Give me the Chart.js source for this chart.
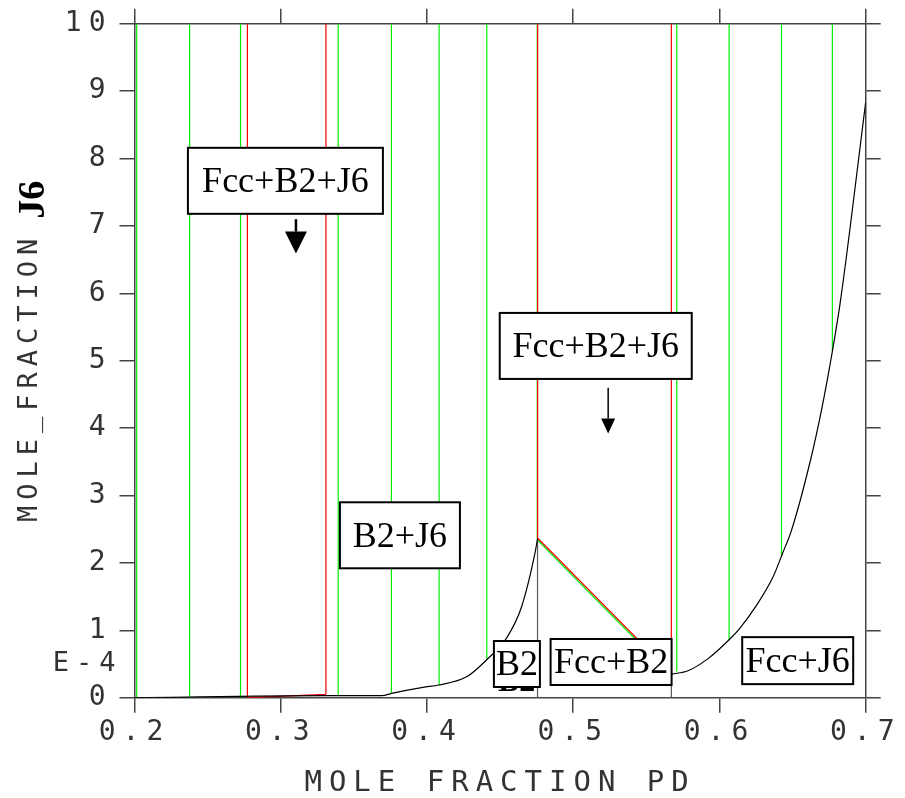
<!DOCTYPE html>
<html>
<head>
<meta charset="utf-8">
<title>Mole fraction J6 vs mole fraction Pd</title>
<script src="https://cdn.jsdelivr.net/npm/chart.js@4.4.0/dist/chart.umd.min.js"></script>
<style>
  html, body { margin: 0; padding: 0; background: #fff; }
  #wrap { width: 905px; height: 798px; }
</style>
</head>
<body>
<div id="wrap"><canvas id="phaseChart" width="905" height="798"></canvas></div>
<script>
// upper end of every tie-line (top of the section, in units of 1E-4)
const yTop = 10;

// green tie-lines: x position and lower end on the phase boundary
const greenTieX    = [0.2015, 0.2377, 0.2725, 0.3393, 0.3757, 0.4083, 0.4409, 0.4754, 0.5708, 0.6066, 0.6424, 0.6772];
const greenTieBase = [0,      0,      0,      0.03,   0.07,   0.19,   0.56,   2.36,   0.39,   0.86,   2.11,   5.14];

// red tie-lines
const redTieX    = [0.2772, 0.3309, 0.4757, 0.5671];
const redTieBase = [0,      0.05,   2.36,   0.35];

// black boundary curve, left branch (B2 side) and right branch (Fcc side)
const leftCurveX  = [0.2, 0.3316, 0.3692, 0.3758, 0.3972, 0.4081, 0.4271, 0.4407, 0.4544, 0.4647, 0.4738, 0.4756];
const leftCurveY  = [0,   0.03,   0.03,   0.065,  0.154,  0.188,  0.31,   0.56,   0.885,  1.35,   2.14,   2.36];
const rightCurveX = [0.5671, 0.5785, 0.5922, 0.6066, 0.6139, 0.6253, 0.6366, 0.6431, 0.6492, 0.6622, 0.6697, 0.6772, 0.6827, 0.7];
const rightCurveY = [0.35,   0.40,   0.58,   0.86,   1.03,   1.37,   1.79,   2.14,   2.48,   3.52,   4.26,   5.14,   5.88,   8.84];

// three-phase triangle edge (Fcc+B2 boundary) and short red segment near the axis
const edgeX = [0.4756, 0.5671];
const edgeY = [2.36, 0.35];
const lowRedX = [0.2772, 0.3309];
const lowRedY = [0, 0.05];

// vertical boundaries under the curve: x and the curve value where they stop
const dropX = [0.4756, 0.5671];
const dropTop = [2.36, 0.35];

// phase region labels
const labelText = ['Fcc+B2+J6', 'Fcc+B2+J6', 'B2+J6', 'B2', 'Fcc+B2', 'Fcc+J6'];
const labelX = [0.3032, 0.5154, 0.3815, 0.4615, 0.5259, 0.6535];
const labelY = [7.67, 5.22, 2.41, 0.50, 0.53, 0.55];

// arrows under the three-phase labels
const arrowX = [0.3104, 0.5239];
const arrowFrom = [7.10, 4.60];
const arrowTo = [6.59, 3.92];

const xTicks = [0.2, 0.3, 0.4, 0.5, 0.6, 0.7];

function toPoints(xs, ys) {
    return xs.map((x, i) => ({ x: x, y: ys[i] }));
}

function verticals(xs, lows, highs) {
    const pts = [];
    xs.forEach((x, i) => {
        const hi = Array.isArray(highs) ? highs[i] : highs;
        pts.push({ x: x, y: lows[i] }, { x: x, y: hi }, { x: x, y: null });
    });
    return pts;
}

function lineSet(data, color, width) {
    return {
        data: data,
        showLine: true,
        borderColor: color,
        backgroundColor: color,
        borderWidth: width,
        pointRadius: 0,
        spanGaps: false,
        tension: 0
    };
}

const monoFont = '"DejaVu Sans Mono", "Liberation Mono", monospace';
const serifFont = '"Liberation Serif", "Times New Roman", serif';
const axisColor = '#444';
const textColor = '#333';

const boxW = [195, 192, 120, 46, 121, 111];
const boxH = [66, 66, 66, 46, 46, 47];

function drawArrow(ctx, px, y0, y1, head, headW, shaftW) {
    ctx.beginPath();
    ctx.lineWidth = shaftW;
    ctx.moveTo(px, y0);
    ctx.lineTo(px, y1 - head);
    ctx.stroke();
    ctx.beginPath();
    ctx.moveTo(px - headW / 2, y1 - head);
    ctx.lineTo(px + headW / 2, y1 - head);
    ctx.lineTo(px, y1);
    ctx.closePath();
    ctx.fill();
}

const annotations = {
    id: 'annotations',
    beforeDraw(chart) {
        chart.ctx.letterSpacing = '7px';
    },
    afterDraw(chart) {
        const { ctx, chartArea, scales: { x, y } } = chart;
        ctx.save();

        // exponent of the y axis
        ctx.letterSpacing = '7px';
        ctx.font = '27px ' + monoFont;
        ctx.fillStyle = textColor;
        ctx.textAlign = 'right';
        ctx.textBaseline = 'middle';
        ctx.fillText('E-4', chartArea.left - 12, y.getPixelForValue(0.5));

        // y axis title, rotated
        ctx.save();
        ctx.translate(30, 522);
        ctx.rotate(-Math.PI / 2);
        ctx.letterSpacing = '6px';
        ctx.textAlign = 'left';
        ctx.fillText('MOLE_FRACTION', 0, 0);
        const w = ctx.measureText('MOLE_FRACTION').width;
        ctx.letterSpacing = '0px';
        ctx.font = 'bold 38px ' + serifFont;
        ctx.fillStyle = '#000';
        ctx.fillText('J6', w + 14, 4);
        ctx.restore();

        ctx.letterSpacing = '0px';
        ctx.fillStyle = '#000';
        ctx.strokeStyle = '#000';

        // overprinted label hidden behind the B2 box
        ctx.font = 'bold 32px ' + serifFont;
        ctx.textAlign = 'center';
        ctx.textBaseline = 'alphabetic';
        ctx.fillText('B2', x.getPixelForValue(0.4613), y.getPixelForValue(0.10));

        // label boxes
        ctx.font = '36px ' + serifFont;
        ctx.textBaseline = 'middle';
        ctx.lineWidth = 2;
        labelText.forEach((t, i) => {
            const cx = x.getPixelForValue(labelX[i]);
            const cy = y.getPixelForValue(labelY[i]);
            ctx.fillStyle = '#fff';
            ctx.fillRect(cx - boxW[i] / 2, cy - boxH[i] / 2, boxW[i], boxH[i]);
            ctx.strokeRect(cx - boxW[i] / 2, cy - boxH[i] / 2, boxW[i], boxH[i]);
            ctx.fillStyle = '#000';
            ctx.fillText(t, cx, cy + 2);
        });

        // arrows
        drawArrow(ctx, x.getPixelForValue(arrowX[0]), y.getPixelForValue(arrowFrom[0]),
            y.getPixelForValue(arrowTo[0]), 22, 22, 2.5);
        drawArrow(ctx, x.getPixelForValue(arrowX[1]), y.getPixelForValue(arrowFrom[1]),
            y.getPixelForValue(arrowTo[1]), 15, 14, 1.5);

        ctx.restore();
    }
};

const ctx = document.getElementById('phaseChart').getContext('2d');

const curveData = toPoints(leftCurveX, leftCurveY)
    .concat([{ x: 0.5, y: null }])
    .concat(toPoints(rightCurveX, rightCurveY));

const redData = verticals(redTieX, redTieBase, yTop)
    .concat(toPoints(edgeX, edgeY.map(v => v + 0.01)))
    .concat([{ x: 0.5, y: null }])
    .concat(toPoints(lowRedX, lowRedY));

const greenData = verticals(greenTieX, greenTieBase, yTop)
    .concat(toPoints(edgeX, edgeY.map(v => v - 0.02)));

const dropData = verticals(dropX, [0, 0], dropTop);

const curveSet = lineSet(curveData, '#000', 1.2);
curveSet.cubicInterpolationMode = 'monotone';

const chart = new Chart(ctx, {
    type: 'scatter',
    data: {
        datasets: [
            curveSet,
            lineSet(redData, '#ff0000', 1.2),
            lineSet(greenData, '#00ee00', 1.2),
            lineSet(dropData, '#555', 1.2)
        ]
    },
    options: {
        responsive: false,
        animation: false,
        layout: { padding: 0 },
        plugins: {
            legend: { display: false },
            tooltip: { enabled: false }
        },
        scales: {
            x: {
                type: 'linear',
                position: 'bottom',
                min: 0.2,
                max: 0.7,
                afterBuildTicks: (s) => { s.ticks = xTicks.map(v => ({ value: v })); },
                ticks: {
                    callback: (v) => v.toFixed(1),
                    font: { family: monoFont, size: 28 },
                    color: textColor,
                    padding: 3,
                    maxRotation: 0
                },
                grid: { drawOnChartArea: false, tickLength: 15, color: axisColor, lineWidth: 1.5 },
                border: { color: axisColor, width: 1.5 },
                title: {
                    display: true,
                    text: 'MOLE FRACTION PD',
                    font: { family: monoFont, size: 29, lineHeight: 1 },
                    color: textColor,
                    padding: 0
                },
                afterFit: (s) => { s.height = 100.3; }
            },
            x2: {
                type: 'linear',
                position: 'top',
                min: 0.2,
                max: 0.7,
                afterBuildTicks: (s) => { s.ticks = xTicks.map(v => ({ value: v })); },
                ticks: { display: false },
                grid: { drawOnChartArea: false, tickLength: 15, color: axisColor, lineWidth: 1.5 },
                border: { color: axisColor, width: 1.5 },
                afterFit: (s) => { s.height = 22; }
            },
            y: {
                type: 'linear',
                position: 'left',
                min: 0,
                max: 10,
                ticks: {
                    stepSize: 1,
                    font: { family: monoFont, size: 28 },
                    color: textColor,
                    padding: 7
                },
                grid: { drawOnChartArea: false, tickLength: 15, color: axisColor, lineWidth: 1.5 },
                border: { color: axisColor, width: 1.5 },
                afterFit: (s) => { s.width = 134.5; }
            },
            y2: {
                type: 'linear',
                position: 'right',
                min: 0,
                max: 10,
                ticks: { display: false, stepSize: 1 },
                grid: { drawOnChartArea: false, tickLength: 15, color: axisColor, lineWidth: 1.5 },
                border: { color: axisColor, width: 1.5 },
                afterFit: (s) => { s.width = 39.3; }
            }
        }
    },
    plugins: [annotations]
});
</script>
</body>
</html>
